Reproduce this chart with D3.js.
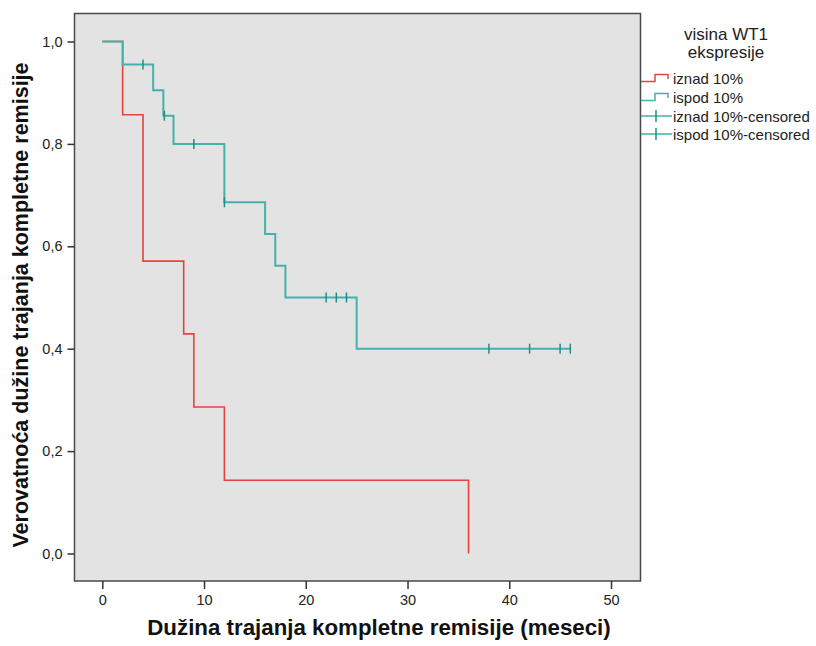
<!DOCTYPE html>
<html>
<head>
<meta charset="utf-8">
<script src="https://cdn.jsdelivr.net/npm/d3@7"></script>
<style>
  html, body { margin: 0; padding: 0; background: #ffffff; }
  svg { display: block; font-family: "Liberation Sans", Arial, sans-serif; }
</style>
</head>
<body>
<svg id="chart" width="816" height="646"></svg>
<script>
// Kaplan–Meier step curves: time (months) and survival probability after each step
const iznadTimes = [0, 2, 4, 8, 9, 12, 36];
const iznadSurv  = [1.0, 0.857, 0.571, 0.429, 0.286, 0.143, 0.0];

const ispodTimes = [0, 2, 5, 6, 7, 12, 16, 17, 18, 25, 46];
const ispodSurv  = [1.0, 0.955, 0.905, 0.855, 0.800, 0.686, 0.624, 0.562, 0.500, 0.400, 0.400];

// censored observations (ispod 10%)
const censTimes = [4, 6.1, 9, 12, 22, 23, 24, 38, 42, 45, 46];

const xTicks = [0, 10, 20, 30, 40, 50];
const yTicks = [0, 0.2, 0.4, 0.6, 0.8, 1.0];

const legendTitle = ["visina WT1", "ekspresije"];
const legendLabels = ["iznad 10%", "ispod 10%", "iznad 10%-censored", "ispod 10%-censored"];

const xTitle = "Dužina trajanja kompletne remisije (meseci)";
const yTitle = "Verovatnoća dužine trajanja kompletne remisije";

const colRed = "#e2453f";
const colTeal = "#45b1aa";
const colCens = "#1f8f86";

const frame = { left: 74.5, top: 13.5, right: 640.5, bottom: 581 };

const svg = d3.select("#chart");

const x = d3.scaleLinear().domain([0, 50]).range([102.3, 611]);
const y = d3.scaleLinear().domain([0, 1]).range([553.5, 41.5]);

// plot background + frame
svg.append("rect")
  .attr("x", frame.left).attr("y", frame.top)
  .attr("width", frame.right - frame.left).attr("height", frame.bottom - frame.top)
  .attr("fill", "#e3e3e3").attr("stroke", "#4a4a4a").attr("stroke-width", 1.5);

// axes
const xAxis = d3.axisBottom(x).tickValues(xTicks).tickSize(8).tickPadding(6)
  .tickFormat(d3.format("d"));
const gx = svg.append("g").attr("transform", `translate(0,${frame.bottom})`).call(xAxis);
gx.select(".domain").remove();

const yAxis = d3.axisLeft(y).tickValues(yTicks).tickSize(7).tickPadding(5)
  .tickFormat(d => d.toFixed(1).replace(".", ","));
const gy = svg.append("g").attr("transform", `translate(${frame.left},0)`).call(yAxis);
gy.select(".domain").remove();

[gx, gy].forEach(g => {
  g.selectAll("line").attr("stroke", "#333").attr("stroke-width", 1.5);
  g.selectAll("text").attr("fill", "#222").style("font-size", "14.5px")
    .style("font-family", "'Liberation Sans', Arial, sans-serif");
});

// step lines
const stepLine = d3.line().curve(d3.curveStepAfter).x(d => x(d[0])).y(d => y(d[1]));

const zip = (times, surv) => times.map((t, i) => [t, surv[i]]);

svg.append("path")
  .datum(zip(iznadTimes, iznadSurv))
  .attr("d", stepLine)
  .attr("fill", "none").attr("stroke", colRed).attr("stroke-width", 1.6);

svg.append("path")
  .datum(zip(ispodTimes, ispodSurv))
  .attr("d", stepLine)
  .attr("fill", "none").attr("stroke", colTeal).attr("stroke-width", 2);

// survival level at a given time for the ispod curve
function survAt(t) {
  let s = ispodSurv[0];
  for (let i = 0; i < ispodTimes.length; i++) if (ispodTimes[i] <= t) s = ispodSurv[i];
  return s;
}

svg.append("g").selectAll("line").data(censTimes).join("line")
  .attr("x1", d => x(d)).attr("x2", d => x(d))
  .attr("y1", d => y(survAt(d)) - 5).attr("y2", d => y(survAt(d)) + 5)
  .attr("stroke", colCens).attr("stroke-width", 1.5);

// axis titles
svg.append("text")
  .attr("x", 379).attr("y", 635)
  .attr("text-anchor", "middle")
  .style("font-size", "22.3px").style("font-weight", "bold").attr("fill", "#111")
  .text(xTitle);

svg.append("text")
  .attr("transform", "translate(28,305) rotate(-90)")
  .attr("text-anchor", "middle")
  .style("font-size", "21.5px").style("font-weight", "bold").attr("fill", "#111")
  .text(yTitle);

// legend
const lg = svg.append("g");
lg.selectAll("text.title").data(legendTitle).join("text")
  .attr("class", "title")
  .attr("x", 726).attr("y", (d, i) => 40 + i * 18)
  .attr("text-anchor", "middle")
  .style("font-size", "17px").attr("fill", "#222")
  .text(d => d);

const rowY = [78, 97, 116, 134];
const items = lg.selectAll("g.item").data(legendLabels).join("g")
  .attr("class", "item")
  .attr("transform", (d, i) => `translate(0,${rowY[i]})`);

items.each(function (d, i) {
  const g = d3.select(this);
  if (i < 2) {
    const c = i === 0 ? colRed : colTeal;
    g.append("path")
      .attr("d", "M641,3.5 H655 V-3.5 H668 V1")
      .attr("fill", "none").attr("stroke", c).attr("stroke-width", 1.5);
  } else {
    g.append("line").attr("x1", 641).attr("x2", 672).attr("y1", 0).attr("y2", 0)
      .attr("stroke", colTeal).attr("stroke-width", 1.5);
    g.append("line").attr("x1", 656).attr("x2", 656).attr("y1", -6).attr("y2", 6)
      .attr("stroke", colCens).attr("stroke-width", 1.5);
  }
  g.append("text").attr("x", 673).attr("y", 5.5)
    .style("font-size", "15px").attr("fill", "#222").text(d);
});
</script>
</body>
</html>
